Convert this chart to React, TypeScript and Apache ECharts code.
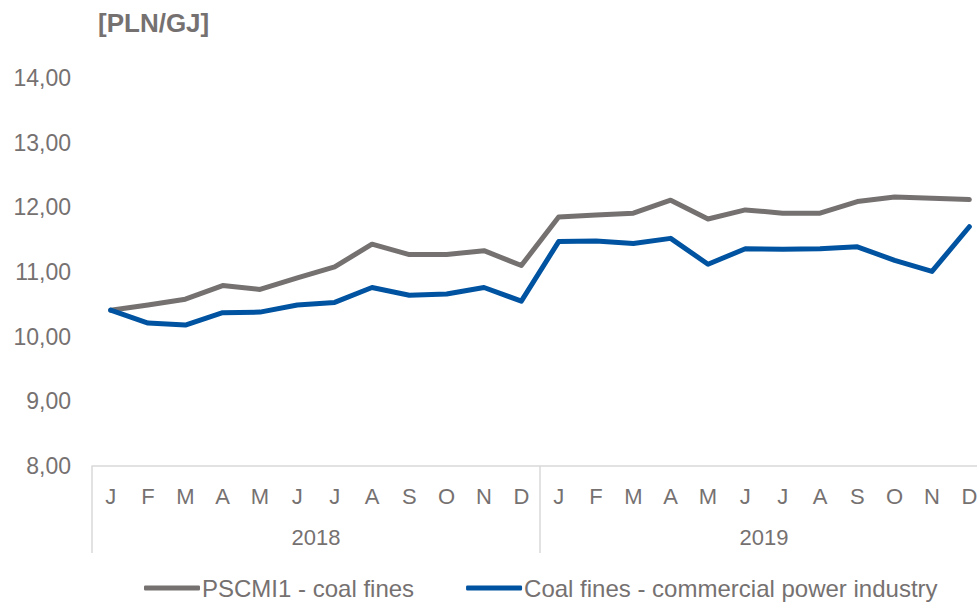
import React, { useEffect, useRef } from "react";
import * as echarts from "echarts";

const months = ["J", "F", "M", "A", "M", "J", "J", "A", "S", "O", "N", "D", "J", "F", "M", "A", "M", "J", "J", "A", "S", "O", "N", "D"];
const years = ["2018", "2019"];
const pscmiValues = [10.41, 10.49, 10.58, 10.79, 10.73, 10.91, 11.08, 11.43, 11.27, 11.27, 11.33, 11.10, 11.85, 11.88, 11.91, 12.11, 11.82, 11.96, 11.91, 11.91, 12.09, 12.16, 12.14, 12.12];
const commercialValues = [10.41, 10.21, 10.18, 10.37, 10.38, 10.49, 10.53, 10.76, 10.64, 10.66, 10.76, 10.55, 11.47, 11.48, 11.44, 11.52, 11.12, 11.36, 11.35, 11.36, 11.39, 11.18, 11.01, 11.70];
const seriesNames = ["PSCMI1 - coal fines", "Coal fines - commercial power industry"];
const unitLabel = "[PLN/GJ]";

const FONT = "'Liberation Sans', Arial, sans-serif";
const TEXT = "#767171";
const GRAY = "#767171";
const BLUE = "#0053A0";
const AXIS = "#D9D9D9";

export default function App() {
  const ref = useRef<HTMLDivElement>(null);
  useEffect(() => {
    if (!ref.current) return;
    const chart = echarts.init(ref.current, undefined, { renderer: "svg" });
    chart.setOption({
      animation: false,
      backgroundColor: "#ffffff",
      textStyle: { fontFamily: FONT },
      title: {
        text: unitLabel,
        left: 93,
        top: 5,
        textStyle: { fontFamily: FONT, fontSize: 26, fontWeight: "bold", color: TEXT },
      },
      legend: {
        left: 144,
        top: 576,
        itemGap: 52,
        itemWidth: 56,
        itemHeight: 5,
        padding: 0,
        icon: "roundRect",
        textStyle: { fontFamily: FONT, fontSize: 24, lineHeight: 24, color: TEXT, padding: [0, 0, 0, -3] },
        data: seriesNames,
      },
      grid: { left: 92, width: 896, top: 78, height: 388, containLabel: false, outerBoundsMode: "none" },
      xAxis: [
        {
          type: "category",
          data: months,
          boundaryGap: true,
          position: "bottom",
          axisLine: { show: true, lineStyle: { color: AXIS, width: 1.5 } },
          axisTick: { show: false },
          axisLabel: { interval: 0, margin: 19, fontFamily: FONT, fontSize: 22, color: TEXT },
          splitLine: { show: false },
        },
        {
          type: "category",
          data: years,
          boundaryGap: true,
          position: "bottom",
          axisLine: { show: false },
          axisTick: { show: true, length: 87, lineStyle: { color: AXIS, width: 1.5 } },
          axisLabel: { interval: 0, margin: 60, fontFamily: FONT, fontSize: 22, color: TEXT },
          splitLine: { show: false },
        },
      ],
      yAxis: {
        type: "value",
        min: 8,
        max: 14,
        interval: 1,
        axisLine: { show: false },
        axisTick: { show: false },
        splitLine: { show: false },
        axisLabel: {
          margin: 21,
          fontFamily: FONT,
          fontSize: 23,
          color: TEXT,
          formatter: (v: number) => v.toFixed(2).replace(".", ","),
        },
      },
      series: [
        {
          name: seriesNames[0],
          type: "line",
          data: pscmiValues,
          symbol: "none",
          itemStyle: { color: GRAY },
          lineStyle: { color: GRAY, width: 5, cap: "round", join: "round" },
        },
        {
          name: seriesNames[1],
          type: "line",
          data: commercialValues,
          symbol: "none",
          itemStyle: { color: BLUE },
          lineStyle: { color: BLUE, width: 5, cap: "round", join: "round" },
        },
      ],
    });
    return () => chart.dispose();
  }, []);
  return <div ref={ref} style={{ position: "fixed", left: 0, top: 0, width: 977, height: 602 }} />;
}
